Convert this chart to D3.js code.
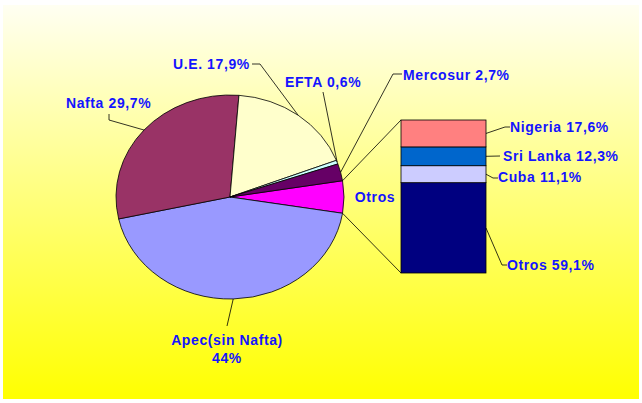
<!DOCTYPE html>
<html>
<head>
<meta charset="utf-8">
<script src="https://cdn.jsdelivr.net/npm/d3@7"></script>
<style>
  html, body { margin: 0; padding: 0; background: #fff; }
  svg text { font-family: "Liberation Sans", Arial, sans-serif; font-weight: bold; font-size: 14px; letter-spacing: 0.6px; fill: #1414ff; }
</style>
</head>
<body>
<div id="chart"></div>
<script>
// pie slices, in drawing order (clockwise from the "Otros" slice)
const pieNames = ['Otros', 'Apec(sin Nafta)', 'Nafta', 'U.E.', 'EFTA', 'Mercosur'];
const pieValues = [5.1, 44, 29.7, 17.9, 0.6, 2.7];
const pieLabels = ['Otros', 'Apec(sin Nafta)\n44%', 'Nafta 29,7%', 'U.E. 17,9%', 'EFTA 0,6%', 'Mercosur 2,7%'];
const pieColors = ['#ff00ff', '#9999ff', '#993366', '#ffffcc', '#ccffff', '#660066'];

// breakdown of "Otros", bottom to top
const barNames = ['Otros', 'Cuba', 'Sri Lanka', 'Nigeria'];
const barValues = [59.1, 11.1, 12.3, 17.6];
const barLabels = ['Otros 59,1%', 'Cuba 11,1%', 'Sri Lanka 12,3%', 'Nigeria 17,6%'];
const barColors = ['#000080', '#ccccff', '#0066cc', '#ff8080'];

const width = 642, height = 403;
const svg = d3.select('#chart').append('svg')
  .attr('width', width).attr('height', height);

const defs = svg.append('defs');
const grad = defs.append('linearGradient')
  .attr('id', 'bg').attr('x1', 0).attr('y1', 0).attr('x2', 0).attr('y2', 1);
grad.append('stop').attr('offset', '0%').attr('stop-color', '#fffff2');
grad.append('stop').attr('offset', '100%').attr('stop-color', '#ffff00');

svg.append('rect')
  .attr('x', 3).attr('y', 5).attr('width', 636).attr('height', 394)
  .attr('fill', 'url(#bg)');

// pie (slightly squashed vertically, like the original)
const cx = 230, cy = 197, rx = 114, ry = 102;
const total = d3.sum(pieValues);
const otrosHalf = Math.PI * pieValues[0] / total;
const pie = d3.pie().sort(null)
  .startAngle(Math.PI / 2 - otrosHalf)
  .endAngle(Math.PI / 2 - otrosHalf + 2 * Math.PI);
const arcs = pie(pieValues);
const arc = d3.arc().innerRadius(0).outerRadius(rx);

const pieG = svg.append('g')
  .attr('transform', `translate(${cx},${cy}) scale(1,${ry / rx})`);
pieG.selectAll('path')
  .data(arcs)
  .join('path')
  .attr('d', arc)
  .attr('fill', (d, i) => pieColors[i])
  .attr('stroke', '#000')
  .attr('stroke-width', 0.8)
  .attr('vector-effect', 'non-scaling-stroke');

const edgePoint = a => [cx + rx * Math.sin(a), cy - ry * Math.cos(a)];

// connectors pie -> bar
const x0 = 401, x1 = 486, barTop = 120, barBottom = 273;
const y = d3.scaleLinear().domain([0, d3.sum(barValues)]).range([barBottom, barTop]);

const pTop = edgePoint(arcs[0].startAngle);
const pBot = edgePoint(arcs[0].endAngle);
svg.append('line').attr('x1', pTop[0]).attr('y1', pTop[1]).attr('x2', x0).attr('y2', barTop)
  .attr('stroke', '#000').attr('stroke-width', 0.8);
svg.append('line').attr('x1', pBot[0]).attr('y1', pBot[1]).attr('x2', x0).attr('y2', barBottom)
  .attr('stroke', '#000').attr('stroke-width', 0.8);

// stacked bar
let acc = 0;
const segs = barValues.map((v, i) => {
  const s = { i, y0: acc, y1: acc + v };
  acc += v;
  return s;
});
svg.append('g').selectAll('rect')
  .data(segs)
  .join('rect')
  .attr('x', x0)
  .attr('width', x1 - x0)
  .attr('y', d => y(d.y1))
  .attr('height', d => y(d.y0) - y(d.y1))
  .attr('fill', d => barColors[d.i])
  .attr('stroke', '#000')
  .attr('stroke-width', 0.8);

// pie labels: text anchor position + leader line bend points
const pieLabelLayout = [
  { text: [375, 202], anchor: 'middle', leader: null },
  { text: [227, 345], anchor: 'middle', leader: [[227, 326]] },
  { text: [66, 108], anchor: 'start', leader: [[109, 120], [109, 114]] },
  { text: [173, 69], anchor: 'start', leader: [[260, 64], [252, 64]] },
  { text: [285, 87], anchor: 'start', leader: [[323, 92]] },
  { text: [403, 80], anchor: 'start', leader: [[393, 74], [402, 74]] }
];

const lineGen = d3.line();
arcs.forEach((d, i) => {
  const L = pieLabelLayout[i];
  if (L.leader) {
    const mid = (d.startAngle + d.endAngle) / 2;
    const pts = [edgePoint(mid)].concat(L.leader);
    svg.append('path').attr('d', lineGen(pts))
      .attr('fill', 'none').attr('stroke', '#000').attr('stroke-width', 0.8);
  }
  const t = svg.append('text')
    .attr('x', L.text[0]).attr('y', L.text[1])
    .attr('text-anchor', L.anchor);
  pieLabels[i].split('\n').forEach((s, k) => {
    t.append('tspan').attr('x', L.text[0]).attr('dy', k ? 18 : 0).text(s);
  });
});

// bar labels
const barLabelLayout = [
  { text: [507, 270], leader: [[502, 265], [507, 265]], from: 0.6 },
  { text: [498, 182], leader: [[493, 178], [498, 178]], from: 0.5 },
  { text: [503, 161], leader: [[500, 156]], from: 0.5 },
  { text: [510, 132], leader: [[505, 127], [510, 127]], from: 0.5 }
];
segs.forEach((d, i) => {
  const L = barLabelLayout[i];
  const sy = i === 0 ? 228 : y(d.y0 + (d.y1 - d.y0) * L.from);
  const pts = [[x1, sy]].concat(L.leader);
  svg.append('path').attr('d', lineGen(pts))
    .attr('fill', 'none').attr('stroke', '#000').attr('stroke-width', 0.8);
  svg.append('text').attr('x', L.text[0]).attr('y', L.text[1]).text(barLabels[i]);
});
</script>
</body>
</html>
